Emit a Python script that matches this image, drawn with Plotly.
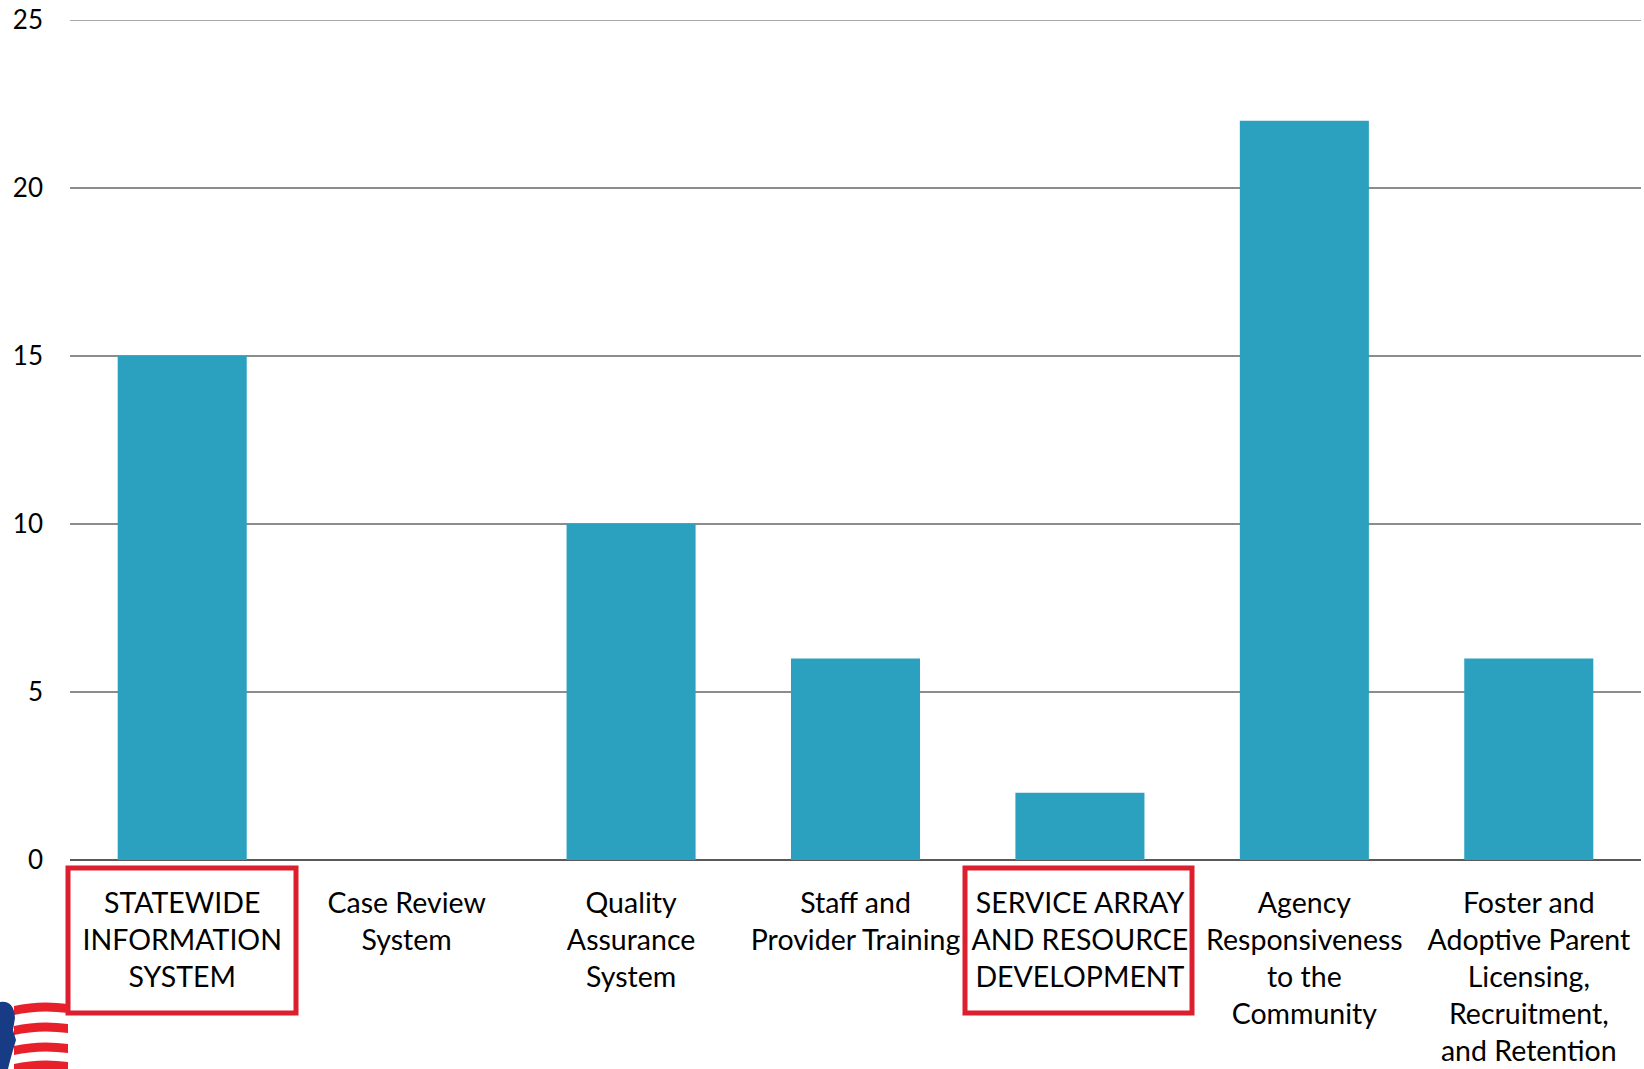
import plotly.graph_objects as go

categories = [
    "STATEWIDE<br>INFORMATION<br>SYSTEM",
    "Case Review<br>System",
    "Quality<br>Assurance<br>System",
    "Staff and<br>Provider Training",
    "SERVICE ARRAY<br>AND RESOURCE<br>DEVELOPMENT",
    "Agency<br>Responsiveness<br>to the<br>Community",
    "Foster and<br>Adoptive Parent<br>Licensing,<br>Recruitment,<br>and Retention",
]
values = [15, 0, 10, 6, 2, 22, 6]
y_ticks = [0, 5, 10, 15, 20, 25]

W, H = 1644, 1069
L, R, T, B = 70, 3, 20, 209
PW, PH = W - L - R, H - T - B

def px(x):
    return (x - L) / PW

def py(y):
    return (H - B - y) / PH

fig = go.Figure()
fig.add_trace(go.Bar(
    x=list(range(len(categories))), y=values,
    marker=dict(color="#2CA1BF", line=dict(width=0)),
    width=0.575,
))

shapes = []
# top gridline (edge of range)
shapes.append(dict(type="line", xref="paper", yref="y", x0=0, x1=1,
                   y0=y_ticks[-1], y1=y_ticks[-1],
                   line=dict(color="#8C8C8C", width=1.5), layer="below"))
# highlight boxes around two category labels
for x0, x1 in [(68, 296), (965, 1192)]:
    shapes.append(dict(type="rect", xref="paper", yref="paper",
                       x0=px(x0), x1=px(x1), y0=py(868), y1=py(1013),
                       line=dict(color="#DC1F2E", width=5), layer="above"))

# small logo in bottom-left corner
stripes = [1010, 1030, 1050, 1068]
for sy in stripes:
    shapes.append(dict(type="path", xref="paper", yref="paper",
                       path=(f"M {px(14)},{py(sy-4)} Q {px(40)},{py(sy-10)} {px(68)},{py(sy-6)} "
                             f"L {px(68)},{py(sy+3)} Q {px(40)},{py(sy-1)} {px(14)},{py(sy+5)} Z"),
                       fillcolor="#E8202A", line=dict(width=0), layer="above"))
shapes.append(dict(type="path", xref="paper", yref="paper",
                   path=(f"M {px(0)},{py(1002)} Q {px(14)},{py(1000)} {px(15)},{py(1018)} "
                         f"L {px(13)},{py(1030)} L {px(16)},{py(1040)} Q {px(10)},{py(1060)} {px(8)},{py(1069)} "
                         f"L {px(0)},{py(1069)} Z"),
                   fillcolor="#183B85", line=dict(width=0), layer="above"))

fig.update_layout(
    width=W, height=H,
    margin=dict(l=L, r=R, t=T, b=B, autoexpand=False),
    paper_bgcolor="white", plot_bgcolor="white",
    font=dict(family="Lato, Carlito, sans-serif", size=28.5, color="#000000"),
    showlegend=False,
    bargap=0.425,
    shapes=shapes,
    xaxis=dict(
        tickmode="array", tickvals=list(range(len(categories))), ticktext=categories,
        range=[-0.5, len(categories) - 0.5],
        showgrid=False, zeroline=False, showline=False, ticks="",
        ticklabelstandoff=23, tickangle=0, automargin=False,
    ),
    yaxis=dict(
        range=[0, 25], tickmode="array", tickvals=y_ticks,
        showgrid=True, gridcolor="#8C8C8C", gridwidth=1.5,
        zeroline=True, zerolinecolor="#595959", zerolinewidth=2,
        showline=False, ticks="", ticklabelstandoff=26,
        tickfont=dict(size=26), automargin=False,
    ),
)

fig.write_html(
    "out.html",
    config={"displayModeBar": False},
    post_script="document.body.style.margin='0px';document.body.style.overflow='hidden';",
)
